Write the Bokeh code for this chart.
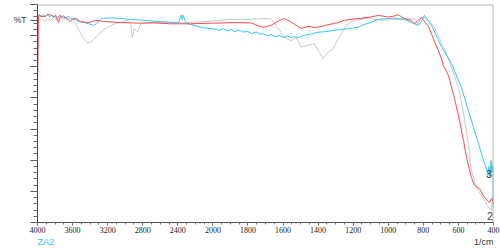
import numpy as np
from bokeh.plotting import figure
from bokeh.layouts import column
from bokeh.models import FixedTicker, Span, Range1d, ColumnDataSource
from bokeh.core.properties import value
from bokeh.embed import file_html
from bokeh.resources import INLINE

# ---- data (wavenumber 1/cm, %T-like units) ----
red_w = [4000, 3989, 3960, 3909, 3880, 3851, 3820, 3794, 3760, 3745, 3737, 3710, 3680, 3646,
         3623, 3600, 3566, 3509, 3451, 3394, 3337, 3280, 3166, 3051, 2937, 2800, 2674, 2480,
         2366, 2251, 2137, 2000, 1863, 1783, 1743, 1709, 1669, 1620, 1594, 1554, 1497, 1457,
         1420, 1383, 1343, 1286, 1251, 1200, 1154, 1100, 1057, 1000, 966, 943, 909, 869, 851,
         829, 811, 771, 740, 697, 686, 657, 623, 594, 571, 554, 526, 509, 480, 451, 423, 411, 400]
red_v = [44.6, 66.5, 66.2, 66.2, 66.8, 66.7, 66.2, 66.3, 64.3, 65.8, 66.5, 66.0, 65.8, 65.0,
         64.5, 65.3, 65.6, 64.5, 64.3, 64.3, 64.9, 64.7, 64.4, 64.2, 64.1, 64.0, 64.1, 63.8,
         63.8, 63.8, 63.9, 64.0, 64.2, 64.1, 63.2, 62.7, 63.3, 64.9, 65.5, 64.4, 62.3, 63.0,
         62.6, 62.9, 63.5, 64.2, 64.9, 65.3, 65.6, 66.0, 66.5, 66.0, 66.3, 66.7, 65.5, 64.9, 63.8,
         64.9, 65.8, 63.0, 58.7, 52.7, 50.4, 47.2, 40.1, 32.8, 26.3, 20.9, 14.5, 11.9, 10.9, 8.0, 6.4, 7.7, 6.1]

cyan_w = [4000, 3977, 3954, 3931, 3909, 3886, 3863, 3840, 3817, 3794, 3771, 3749, 3726, 3703,
          3680, 3646, 3623, 3589, 3554, 3509, 3451, 3394, 3360, 3326, 3280, 3246, 3166, 3051,
          2937, 2823, 2709, 2594, 2480, 2389, 2371, 2360, 2349, 2337, 2320, 2297, 2251, 2171,
          2080, 1994, 1966, 1943, 1920, 1897, 1874, 1851, 1829, 1800, 1777, 1754, 1731, 1709,
          1686, 1669, 1646, 1623, 1600, 1577, 1554, 1537, 1514, 1480, 1440, 1400, 1354, 1309,
          1269, 1229, 1171, 1137, 1097, 1057, 1011, 966, 909, 869, 829, 811, 794, 777, 754, 726,
          697, 640, 583, 543, 514, 486, 457, 440, 431, 426, 420, 414, 409, 403, 400]
cyan_v = [66.2, 66.8, 66.0, 66.6, 66.2, 66.8, 66.0, 66.5, 65.8, 66.6, 65.8, 66.5, 65.7, 66.5,
          65.8, 66.2, 65.5, 65.3, 64.9, 64.4, 64.1, 63.6, 63.3, 63.9, 65.2, 65.6, 65.7, 65.5,
          65.2, 65.0, 64.7, 64.5, 64.3, 64.2, 65.8, 66.7, 65.2, 66.5, 64.9, 63.9, 63.6, 63.0,
          62.4, 62.2, 61.7, 62.3, 61.5, 62.0, 61.3, 61.8, 61.2, 61.3, 60.7, 61.2, 60.5, 60.6,
          59.9, 60.4, 59.6, 60.1, 59.4, 59.9, 59.4, 59.7, 59.4, 60.1, 60.5, 61.1, 61.3, 61.7,
          62.0, 62.2, 62.7, 63.6, 64.3, 65.2, 65.5, 65.6, 65.2, 64.3, 63.3, 64.5, 66.5, 65.2, 63.3, 60.1,
          56.5, 51.1, 43.4, 36.0, 30.5, 25.4, 19.9, 17.3, 15.1, 18.0, 14.8, 19.9, 16.1, 18.3, 4.8]

gray_w = [4000, 3989, 3954, 3920, 3886, 3851, 3817, 3783, 3749, 3714, 3680, 3646, 3611, 3589,
          3554, 3520, 3486, 3451, 3429, 3394, 3360, 3314, 3257, 3189, 3109, 3029, 2971, 2937,
          2918, 2897, 2880, 2860, 2834, 2800, 2709, 2537, 2366, 2251, 2137, 2000, 1897, 1800,
          1709, 1669, 1640, 1611, 1594, 1554, 1526, 1497, 1463, 1423, 1394, 1371, 1343, 1314,
          1280, 1240, 1194, 1114, 1040, 966, 909, 851, 829, 811, 794, 771, 737, 697, 657, 640,
          600, 571, 543, 526, 497, 457, 429, 411, 406, 400]
gray_v = [38.2, 64.9, 65.2, 64.5, 65.5, 64.9, 65.8, 65.0, 66.0, 65.2, 65.6, 65.2, 65.5, 64.9,
          63.3, 61.3, 59.7, 58.4, 57.7, 57.8, 58.8, 60.1, 61.7, 62.9, 63.9, 64.5, 64.9, 63.9,
          59.3, 62.3, 61.7, 61.1, 63.3, 64.1, 64.2, 64.1, 64.1, 64.2, 64.4, 64.7, 65.2, 65.2,
          65.5, 65.4, 63.3, 61.0, 59.5, 58.4, 59.4, 56.3, 56.8, 57.4, 54.7, 52.6, 54.7, 55.9,
          59.5, 63.3, 64.9, 65.6, 64.9, 65.2, 65.4, 65.4, 63.8, 65.9, 65.8, 64.9, 62.7, 57.9, 52.6, 49.8,
          43.4, 35.0, 25.4, 16.7, 11.2, 7.7, 4.8, 3.9, 8.7, 5.5]

x_tick_w = [4000, 3600, 3200, 2800, 2400, 2000, 1800, 1600, 1400, 1200, 1000, 800, 600, 400]
x_tick_labels = ["4000", "3600", "3200", "2800", "2400", "2000", "1800", "1600", "1400",
                 "1200", "1000", "800", "600", "400"]
x_minor_w = list(range(4000, 2000, -100)) + list(range(2000, 399, -50))
y_major = [0, 10, 20, 30, 40, 50, 60, 70]
y_minor = list(range(0, 71, 2))
y_title_pos = 65
y_title = "%T"
x_title = "1/cm"
sample_name = "ZA2"
curve_tags = ["3", "2"]
tag_w = [426, 420]
tag_v = [15.7, 2.0]


def to_u(w):
    """Shimadzu-style axis: 4000-2000 compressed 2x, 2000-400 expanded."""
    w = np.asarray(w, dtype=float)
    return np.where(w >= 2000, (4000.0 - w) / 2.0, 1000.0 + (2000.0 - w))


p = figure(width=500, height=237, output_backend="svg", toolbar_location=None,
           x_range=Range1d(0, 2600), y_range=Range1d(0, 70),
           min_border_left=37, min_border_right=7, min_border_top=4, min_border_bottom=15,
           background_fill_color="white", border_fill_color="white")
p.outline_line_color = None
p.xgrid.visible = False
p.ygrid.visible = False

p.line(to_u(gray_w), gray_v, line_color="#c9c9c9", line_width=1)
p.line(to_u(cyan_w), cyan_v, line_color="#2fc8f4", line_width=1)
p.line(to_u(red_w), red_v, line_color="#ff4a4a", line_width=1)

xt = FixedTicker(ticks=list(to_u(x_tick_w)), minor_ticks=list(to_u(x_minor_w)))
p.xaxis.ticker = xt
p.xaxis.major_label_overrides = {float(u): lab for u, lab in zip(to_u(x_tick_w), x_tick_labels)}
p.xaxis.major_label_text_font = "Liberation Sans Narrow"
p.xaxis.major_label_text_font_size = "8px"
p.xaxis.major_label_text_color = "#222222"
p.xaxis.major_label_standoff = 1
p.xaxis.major_tick_in = 0
p.xaxis.major_tick_out = 3
p.xaxis.minor_tick_in = 0
p.xaxis.minor_tick_out = 2
p.xaxis.axis_line_color = "#555555"
p.xaxis.major_tick_line_color = "#555555"
p.xaxis.minor_tick_line_color = "#777777"

p.yaxis.ticker = FixedTicker(ticks=y_major + [y_title_pos], minor_ticks=y_minor)
ovr = {float(v): "" for v in y_major}
ovr[float(y_title_pos)] = y_title
p.yaxis.major_label_overrides = ovr
p.yaxis.major_label_text_font = "Liberation Sans"
p.yaxis.major_label_text_font_size = "8.5px"
p.yaxis.major_label_text_color = "#333333"
p.yaxis.major_label_standoff = 4
p.yaxis.major_tick_in = 0
p.yaxis.major_tick_out = 7
p.yaxis.minor_tick_in = 0
p.yaxis.minor_tick_out = 4
p.yaxis.axis_line_color = "#444444"
p.yaxis.major_tick_line_color = "#555555"
p.yaxis.minor_tick_line_color = "#666666"

p.add_layout(Span(location=70, dimension="width", line_color="#b4b4b4", line_width=2))
p.add_layout(Span(location=2600, dimension="height", line_color="#b4b4b4", line_width=2))

tags = ColumnDataSource(dict(x=to_u(tag_w), y=tag_v, t=curve_tags))
p.text(x="x", y="y", text="t", source=tags, text_font=value("Liberation Sans"),
       text_font_size="11px", text_color="#444444", text_align="center",
       text_baseline="middle")

# strip below the axis carrying the sample name and unit
p2 = figure(width=500, height=11, output_backend="svg", toolbar_location=None,
            x_range=p.x_range, y_range=Range1d(0, 1), x_axis_type=None, y_axis_type=None,
            min_border_left=37, min_border_right=7, min_border_top=0, min_border_bottom=0,
            background_fill_color="white", border_fill_color="white")
p2.outline_line_color = None
p2.grid.visible = False
p2.text(x=[0], y=[0.72], text=[sample_name], text_font=value("Liberation Sans"),
        text_font_size="9px", text_color="#2fc8f4", text_align="left", text_baseline="middle")
p2.text(x=[2600], y=[0.72], text=[x_title], text_font=value("Liberation Sans"),
        text_font_size="9px", text_color="#333333", text_align="right", text_baseline="middle")

layout = column(p, p2, spacing=0)

page_style = """
{% block postamble %}
<style>html, body { margin: 0; padding: 0; overflow: hidden; }</style>
{% endblock %}
"""

open("out.html", "w").write(file_html(layout, INLINE, template=page_style))
